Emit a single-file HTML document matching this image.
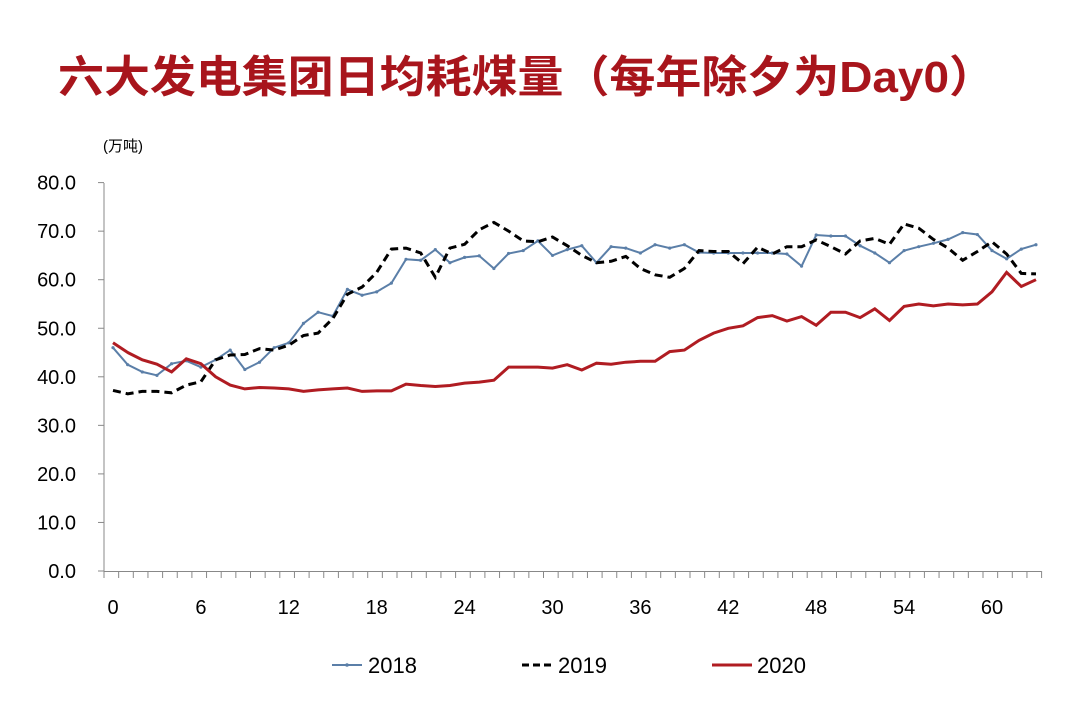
<!DOCTYPE html>
<html><head><meta charset="utf-8"><style>
body{margin:0;background:#fff;width:1080px;height:720px;overflow:hidden;font-family:"Liberation Sans","Noto Sans CJK SC",sans-serif}
</style></head><body>
<svg width="1080" height="720" xmlns="http://www.w3.org/2000/svg">
<text x="58" y="92" font-size="44" font-weight="bold" fill="#a8151c" textLength="937" lengthAdjust="spacingAndGlyphs" font-family="Liberation Sans,Noto Sans CJK SC,sans-serif">六大发电集团日均耗煤量（每年除夕为Day0）</text>
<text x="103" y="151" font-size="15" fill="#000">(万吨)</text>
<g id="axes"></g><g id="series"></g>
<g>
<g><line x1="332" y1="665" x2="362" y2="665" stroke="#5b7fa8" stroke-width="2"/><circle cx="347" cy="665" r="1.8" fill="#5b7fa8"/><text x="368" y="673" font-size="22">2018</text></g>
<g><line x1="522" y1="665" x2="552" y2="665" stroke="#000" stroke-width="3" stroke-dasharray="7,4"/><text x="558" y="673" font-size="22">2019</text></g>
<g><line x1="712" y1="665" x2="752" y2="665" stroke="#b01c22" stroke-width="3"/><text x="757" y="673" font-size="22">2020</text></g>
</g>
</svg>
<script>
const days=[];for(let i=0;i<=63;i++)days.push(i);
const yTicks=[0,10,20,30,40,50,60,70,80];
const s2018=[46,42.5,41,40.3,42.7,43.3,42,43.5,45.5,41.5,43,46,47,51,53.3,52.5,58,56.8,57.5,59.3,64.2,64,66.2,63.5,64.6,64.9,62.3,65.4,66,68,65,66.2,67,63.5,66.8,66.5,65.5,67.2,66.5,67.2,65.6,65.5,65.5,65.5,65.5,65.5,65.3,62.8,69.2,69,69,67,65.5,63.5,66,66.8,67.5,68.3,69.7,69.3,66,64.3,66.3,67.2];
const s2019=[37.2,36.5,37,37,36.7,38.3,39,43.5,44.5,44.6,45.8,45.5,46.5,48.5,49,52,57,58.5,61.5,66.3,66.5,65.5,60.5,66.5,67.3,70.3,71.8,70,68,67.8,68.8,67,65,63.5,63.8,64.8,62.3,61,60.5,62.3,66,65.8,65.8,63.3,66.7,65.3,66.8,66.8,68.2,66.8,65.3,68,68.5,67.3,71.5,70.6,68.3,66.5,64,65.8,67.8,65.3,61.3,61.2];
const s2020=[47,45,43.5,42.6,41,43.7,42.7,40,38.3,37.5,37.8,37.7,37.5,37,37.3,37.5,37.7,37,37.1,37.1,38.5,38.2,38,38.2,38.7,38.9,39.3,42,42,42,41.8,42.5,41.4,42.8,42.6,43,43.2,43.2,45.2,45.5,47.5,49,50,50.5,52.2,52.6,51.5,52.4,50.6,53.3,53.3,52.2,54,51.6,54.5,55,54.6,55,54.8,55,57.5,61.5,58.6,60];
const NS="http://www.w3.org/2000/svg";
const X=d=>113+d*14.65, Y=v=>571-v*4.855;
function mk(p,t,a){const e=document.createElementNS(NS,t);for(const k in a)e.setAttribute(k,a[k]);p.appendChild(e);return e;}
const ax=document.getElementById('axes');
let l=mk(ax,'line',{x1:104,y1:183,x2:104,y2:572,stroke:'#888','stroke-width':1});


l=mk(ax,'line',{x1:104,y1:571.5,x2:1041,y2:571.5,stroke:'#888','stroke-width':1});


yTicks.forEach(v=>{mk(ax,'line',{x1:98,x2:104,y1:Y(v),y2:Y(v),stroke:'#888'});
const t=mk(ax,'text',{x:76,y:Y(v)+7,'font-size':20,'text-anchor':'end'});t.textContent=v.toFixed(1);

});
for(let i=0;i<=64;i++){const x=104+i*14.65;mk(ax,'line',{x1:x,x2:x,y1:571,y2:578,stroke:'#888'});}
days.forEach(d=>{if(d%6===0){const t=mk(ax,'text',{x:X(d),y:614,'font-size':20,'text-anchor':'middle'});t.textContent=d;

}});
const sg=document.getElementById('series');
function pts(s){return s.map((v,i)=>X(days[i]).toFixed(1)+','+Y(v).toFixed(1)).join(' ');}
let p=mk(sg,'polyline',{points:pts(s2018),fill:'none',stroke:'#5b7fa8','stroke-width':2});


s2018.forEach((v,i)=>mk(sg,'circle',{cx:X(days[i]),cy:Y(v),r:1.6,fill:'#5b7fa8'}));
p=mk(sg,'polyline',{points:pts(s2019),fill:'none',stroke:'#000','stroke-width':3,'stroke-dasharray':'8,5'});


p=mk(sg,'polyline',{points:pts(s2020),fill:'none',stroke:'#b01c22','stroke-width':3});


</script>
</body></html>
